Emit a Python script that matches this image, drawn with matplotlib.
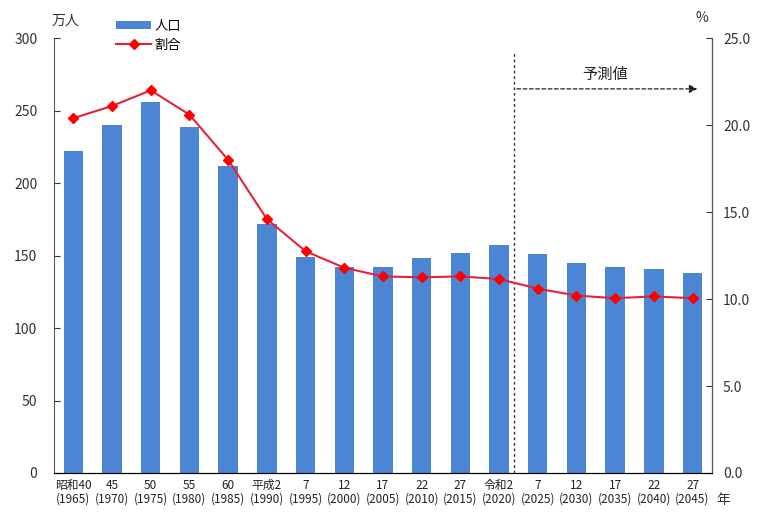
import numpy as np
import matplotlib
matplotlib.use("Agg")
import matplotlib.pyplot as plt

plt.rcParams['font.family'] = ['Noto Sans CJK JP', 'DejaVu Sans']

# 年次ラベル
labels = ["昭和40\n(1965)", "45\n(1970)", "50\n(1975)", "55\n(1980)", "60\n(1985)",
          "平成2\n(1990)", "7\n(1995)", "12\n(2000)", "17\n(2005)", "22\n(2010)",
          "27\n(2015)", "令和2\n(2020)", "7\n(2025)", "12\n(2030)", "17\n(2035)",
          "22\n(2040)", "27\n(2045)"]
# 人口（万人）
jinko = [222, 240, 256, 239, 212, 172, 149, 142, 142, 148, 152, 157,
         151, 145, 142, 141, 138]
# 割合（%）
wariai = [20.4, 21.1, 22.0, 20.6, 18.0, 14.6, 12.75, 11.8, 11.3, 11.25, 11.3, 11.15,
          10.6, 10.2, 10.05, 10.15, 10.05]

x = np.arange(len(labels))

fig = plt.figure(figsize=(7.58, 5.14), dpi=100)
ax = fig.add_axes([0.0712, 0.0798, 0.868, 0.846])
ax2 = ax.twinx()

ax.bar(x, jinko, width=0.5, color='#4a86d3', label='人口', zorder=2)
ax2.plot(x, wariai, color='#e8213a', marker='D', markersize=5,
         markerfacecolor='#ff0000', markeredgecolor='#ff0000', linewidth=1.5, label='割合')

ax.set_xlim(-0.5, len(labels) - 0.5)
ax.set_ylim(0, 300)
ax2.set_ylim(0, 25)
ax.set_yticks(range(0, 301, 50))
ax2.set_yticks(np.arange(0, 25.1, 5))
ax2.set_yticklabels(["%.1f" % v for v in np.arange(0, 25.1, 5)])
ax.set_xticks(x)
ax.set_xticklabels(labels, fontsize=8.5, linespacing=1.1)

ax.tick_params(axis='y', direction='in', length=4, labelsize=10, pad=12, colors='#333333')
ax2.tick_params(axis='y', direction='in', length=4, labelsize=10, pad=8, colors='#333333')
ax.tick_params(axis='x', length=0, pad=4, colors='#222222')

for a in (ax, ax2):
    a.spines['top'].set_visible(False)
ax.spines['left'].set_color('#555555')
ax2.spines['left'].set_visible(False)
ax2.spines['right'].set_color('#555555')
ax.spines['bottom'].set_color('#222222')

# 予測値の区切り
xs = 11.39
ax.axvline(xs, ymin=0, ymax=0.966, color='#333333', linestyle=(0, (2, 2)), linewidth=1)
ax.annotate('', xy=(16.2, 265), xytext=(xs, 265),
            arrowprops=dict(arrowstyle='-|>', linestyle=(0, (3, 2)), color='#222222',
                            linewidth=0.9, mutation_scale=12))
ax.text(13.75, 275, '予測値', ha='center', va='center', fontsize=11, color='#222222')

# 単位
fig.text(0.068, 0.952, '万人', fontsize=10, color='#333333')
fig.text(0.918, 0.957, '%', fontsize=10, color='#333333')
fig.text(0.945, 0.020, '年', fontsize=10, color='#333333')

h1, l1 = ax.get_legend_handles_labels()
h2, l2 = ax2.get_legend_handles_labels()
fig.legend(h1 + h2, l1 + l2, loc='upper left', bbox_to_anchor=(0.138, 0.985),
           frameon=False, fontsize=9.5, handlelength=2.6, handleheight=0.5,
           labelspacing=0.45, handletextpad=0.3)

fig.savefig('out.png', dpi=100)
